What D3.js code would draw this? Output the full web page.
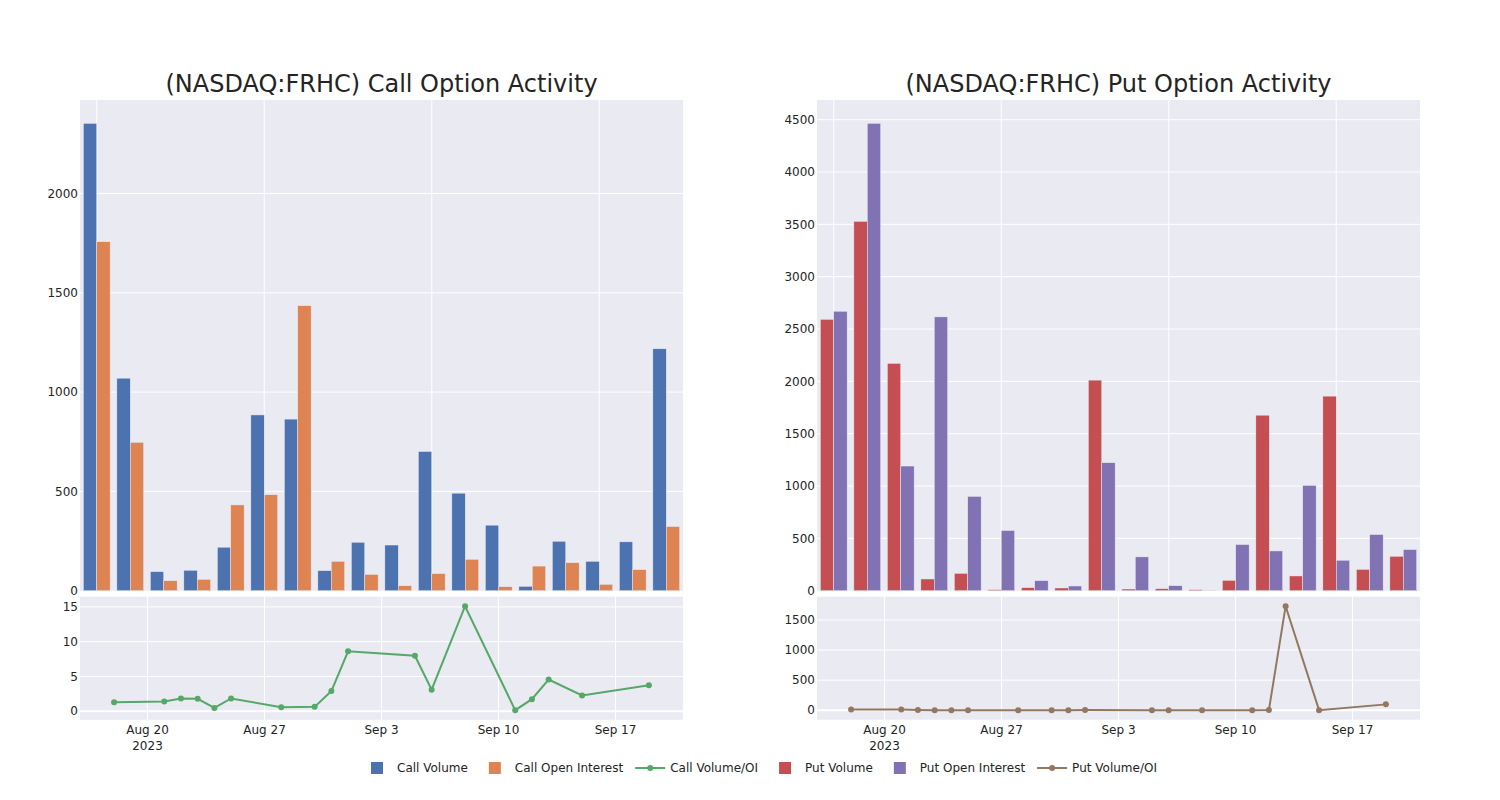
<!DOCTYPE html>
<html><head><meta charset="utf-8">
<script src="https://cdn.jsdelivr.net/npm/d3@7"></script>
<style>body{margin:0;background:#fff;} svg{display:block;font-family:"DejaVu Sans",sans-serif;}</style>
</head><body><svg id="c" width="1500" height="800"></svg>
<script>
const dates = ["2023-08-18","2023-08-21","2023-08-22","2023-08-23","2023-08-24","2023-08-25","2023-08-28","2023-08-30","2023-08-31","2023-09-01","2023-09-05","2023-09-06","2023-09-08","2023-09-11","2023-09-12","2023-09-13","2023-09-15","2023-09-19"];
const callVolume = [2353,1070,96,103,219,885,864,101,244,230,701,491,330,22,249,148,246,1218];
const callOI = [1757,747,50,57,432,483,1435,148,82,25,86,158,20,124,141,32,106,323];
const callRatio = [1.31,1.40,1.84,1.79,0.48,1.84,0.58,0.63,2.90,8.61,7.98,3.10,15.1,0.15,1.74,4.55,2.27,3.73];
const putVolume = [2593,3529,2172,112,166,10,29,26,2012,16,19,10,99,1677,141,1859,204,329];
const putOI = [2670,4465,1191,2616,901,575,96,45,1223,323,48,2,441,380,1006,291,537,393];
const putRatio = [12,10,5,0.04,0.2,0.1,0.3,0.3,0.6,1.6,0.05,0.4,0.2,0.2,4.4,1731,0.5,97];
const titles = ["(NASDAQ:FRHC) Call Option Activity","(NASDAQ:FRHC) Put Option Activity"];
const topTicks = [[0,500,1000,1500,2000],[0,500,1000,1500,2000,2500,3000,3500,4000,4500]];
const bottomTicks = [[0,5,10,15],[0,500,1000,1500]];
const legendLabels = ["Call Volume","Call Open Interest","Call Volume/OI","Put Volume","Put Open Interest","Put Volume/OI"];

const colors = {cv:"#4C72B0", coi:"#DD8452", cr:"#55A868", pv:"#C44E52", poi:"#8172B3", pr:"#937860"};
const BG = "#EAEAF2", TXT = "rgb(36,36,36)";
const svg = d3.select("#c");
const parse = d3.utcParse("%Y-%m-%d");
const dts = dates.map(parse);

const panels = [
  {x0:80, x1:683, vol:callVolume, oi:callOI, ratio:callRatio, cA:colors.cv, cB:colors.coi, cR:colors.cr, title:titles[0], tt:topTicks[0], bt:bottomTicks[0]},
  {x0:817, x1:1420, vol:putVolume, oi:putOI, ratio:putRatio, cA:colors.pv, cB:colors.poi, cR:colors.pr, title:titles[1], tt:topTicks[1], bt:bottomTicks[1]}
];
const topY0 = 100, topY1 = 590.7, botY0 = 596.7, botY1 = 719.7;

panels.forEach(p => {
  const g = svg.append("g");
  // title
  g.append("text").attr("x",(p.x0+p.x1)/2).attr("y",92).attr("text-anchor","middle")
    .attr("font-size",24).attr("fill",TXT).text(p.title);

  // ---- top bar chart ----
  g.append("rect").attr("x",p.x0).attr("y",topY0).attr("width",p.x1-p.x0).attr("height",topY1-topY0).attr("fill",BG);
  const xb = d3.scaleBand().domain(dates).range([p.x0,p.x1]).paddingInner(0.2).paddingOuter(0.1);
  const xc = d3.scaleBand().domain(dates).range([p.x0,p.x1]);
  const maxV = d3.max(p.vol.concat(p.oi));
  const yt = d3.scaleLinear().domain([0, maxV*1.05]).range([topY1, topY0]);
  // grid
  g.append("g").selectAll("line").data(p.tt.filter(t=>t>0)).join("line")
    .attr("x1",p.x0).attr("x2",p.x1).attr("y1",d=>yt(d)).attr("y2",d=>yt(d)).attr("stroke","#fff").attr("stroke-width",1);
  g.append("g").selectAll("line").data(dates.filter((d,i)=>i%5===0)).join("line")
    .attr("x1",d=>xc(d)+xc.bandwidth()/2).attr("x2",d=>xc(d)+xc.bandwidth()/2)
    .attr("y1",topY0).attr("y2",topY1).attr("stroke","#fff").attr("stroke-width",1);
  const sub = d3.scaleBand().domain([0,1]).range([0,xb.bandwidth()]);
  const bars = g.append("g");
  [[p.vol,p.cA],[p.oi,p.cB]].forEach(([vals,col],k)=>{
    bars.append("g").selectAll("rect").data(vals).join("rect")
      .attr("x",(d,i)=>xb(dates[i])+sub(k)).attr("width",sub.bandwidth())
      .attr("y",d=>yt(d)).attr("height",d=>yt(0)-yt(d))
      .attr("fill",col).attr("stroke",BG).attr("stroke-width",0.5);
  });
  // y labels
  g.append("g").selectAll("text").data(p.tt).join("text")
    .attr("x",p.x0-2).attr("y",d=>yt(d)).attr("dy","0.35em").attr("text-anchor","end")
    .attr("font-size",12).attr("fill",TXT).text(d=>d);

  // ---- bottom line chart ----
  g.append("rect").attr("x",p.x0).attr("y",botY0).attr("width",p.x1-p.x0).attr("height",botY1-botY0).attr("fill",BG);
  const dayMs = 86400000, padDays = 2.04;
  const xt = d3.scaleUtc().domain([new Date(+dts[0]-padDays*dayMs), new Date(+dts[dts.length-1]+padDays*dayMs)]).range([p.x0,p.x1]);
  const rMin = d3.min(p.ratio), rMax = d3.max(p.ratio), padPx = 9.5;
  const h = botY1-botY0;
  const per = (rMax-rMin)/(h-2*padPx);
  const yb = d3.scaleLinear().domain([rMin-padPx*per, rMax+padPx*per]).range([botY1, botY0]);
  const weeks = d3.utcSunday.range(xt.domain()[0], xt.domain()[1]);
  g.append("g").selectAll("line").data(weeks).join("line")
    .attr("x1",d=>xt(d)).attr("x2",d=>xt(d)).attr("y1",botY0).attr("y2",botY1).attr("stroke","#fff").attr("stroke-width",1);
  g.append("g").selectAll("line").data(p.bt).join("line")
    .attr("x1",p.x0).attr("x2",p.x1).attr("y1",d=>yb(d)).attr("y2",d=>yb(d))
    .attr("stroke","#fff").attr("stroke-width",d=>d===0?2:1);
  const line = d3.line().x((d,i)=>xt(dts[i])).y(d=>yb(d));
  g.append("path").datum(p.ratio).attr("d",line).attr("fill","none").attr("stroke",p.cR).attr("stroke-width",2);
  g.append("g").selectAll("circle").data(p.ratio).join("circle")
    .attr("cx",(d,i)=>xt(dts[i])).attr("cy",d=>yb(d)).attr("r",3).attr("fill",p.cR);
  g.append("g").selectAll("text").data(p.bt).join("text")
    .attr("x",p.x0-2).attr("y",d=>yb(d)).attr("dy","0.35em").attr("text-anchor","end")
    .attr("font-size",12).attr("fill",TXT).text(d=>d);
  const fmt = d3.utcFormat("%b %-d");
  const xl = g.append("g").selectAll("text").data(weeks).join("text")
    .attr("x",d=>xt(d)).attr("y",botY1+14).attr("text-anchor","middle").attr("font-size",12).attr("fill",TXT);
  xl.append("tspan").attr("x",d=>xt(d)).text(d=>fmt(d));
  xl.filter((d,i)=>i===0).append("tspan").attr("x",d=>xt(d)).attr("dy",16).text(d=>d3.utcFormat("%Y")(d));
});

// ---- legend ----
const legCols = [colors.cv,colors.coi,colors.cr,colors.pv,colors.poi,colors.pr];
const legType = ["bar","bar","line","bar","bar","line"];
const lg = svg.append("g");
let cx = 0;
legendLabels.forEach((lab,i)=>{
  const it = lg.append("g");
  const t = it.append("text").attr("x",cx+40).attr("y",0).attr("dy","0.35em").attr("font-size",12).attr("fill",TXT).text(lab);
  const w = t.node().getComputedTextLength();
  if(legType[i]==="bar"){
    it.append("rect").attr("x",cx+14).attr("y",-6).attr("width",12).attr("height",12).attr("fill",legCols[i]);
  } else {
    it.append("line").attr("x1",cx+5).attr("x2",cx+35).attr("y1",0).attr("y2",0).attr("stroke",legCols[i]).attr("stroke-width",2);
    it.append("circle").attr("cx",cx+20).attr("cy",0).attr("r",3).attr("fill",legCols[i]);
  }
  cx += 40 + w + 7;
});
lg.attr("transform",`translate(357,768)`);
</script></body></html>
